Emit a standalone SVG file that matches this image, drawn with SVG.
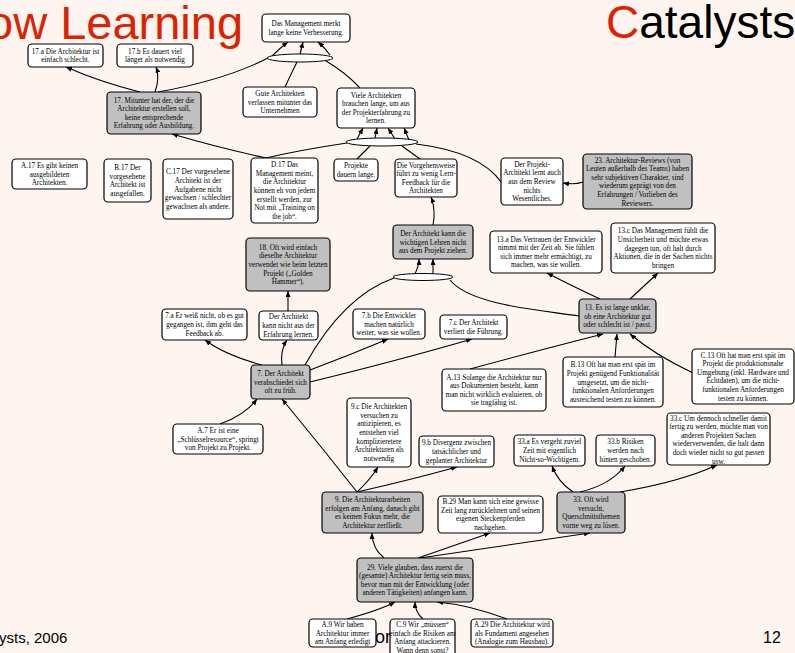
<svg xmlns="http://www.w3.org/2000/svg" width="795" height="653" viewBox="0 0 795 653">
<style>
.bg{fill:#fff5f0}
.n{fill:#fff;stroke:#000;stroke-width:1.2}
.g{fill:#c0c0c0;stroke:#000;stroke-width:1.2}
.e{fill:#fff;stroke:#000;stroke-width:1}
text.t{font-family:"Liberation Serif","Times New Roman",serif;font-size:7.2px;text-anchor:middle;fill:#000}
.c path{fill:none;stroke:#000;stroke-width:1.1}
.a{marker-end:url(#ah)}
.big{font-family:"Liberation Sans",Arial,sans-serif}
</style>
<defs>
<marker id="ah" markerUnits="userSpaceOnUse" markerWidth="6" markerHeight="5" refX="6" refY="2.5" orient="auto"><path d="M0,0 L6,2.5 L0,5 z" fill="#000"/></marker>
</defs>
<rect class="bg" x="0" y="0" width="795" height="653"/>
<text class="big" x="-13" y="39" font-size="47" fill="#dd2200">ow Learning</text>
<text class="big" x="606" y="38" font-size="46" fill="#000"><tspan fill="#dd2200">C</tspan>atalysts</text>
<text class="big" x="-1" y="643" font-size="15" fill="#000">ysts, 2006</text>
<text class="big" x="763" y="643" font-size="16" fill="#000">12</text>
<text class="big" x="375" y="643" font-size="18" fill="#000">or</text>

<g class="c">
<path class="a" d="M140,92 Q100,82 66,67"/>
<path class="a" d="M155,92 Q160,78 156,67"/>
<path d="M158,92 Q225,80 268,58"/>
<path d="M285,87 Q292,72 297,62"/>
<path d="M360,88 Q345,72 326,61"/>
<path class="a" d="M272,56 Q280,48 288,42"/>
<path class="a" d="M300,54 L303,42"/>
<path class="a" d="M330,55 Q325,48 318,42"/>
<path class="a" d="M357,139 L363,128"/>
<path class="a" d="M375,138 L377,128"/>
<path class="a" d="M395,139 L388,128"/>
<path class="a" d="M409,140 L404,128"/>
<path class="a" d="M266,158 Q220,148 172,134"/>
<path d="M266,158 Q300,150 347,143"/>
<path d="M357,159 L370,146"/>
<path d="M420,159 L402,146"/>
<path d="M501,182 Q480,152 416,144"/>
<path class="a" d="M583,182 Q575,185 563,183"/>
<path class="a" d="M433,225 Q436,210 431,197"/>
<path class="a" d="M415,274 Q419,265 419,259"/>
<path class="a" d="M433,274 L433,259"/>
<path d="M305,365 C330,320 360,290 394,278"/>
<path d="M579,316 C540,310 470,305 450,280"/>
<path class="a" d="M282,365 Q280,350 287,340"/>
<path class="a" d="M288,311 L288,291"/>
<path class="a" d="M262,365 Q225,355 205,340"/>
<path class="a" d="M310,370 Q350,355 388,339"/>
<path class="a" d="M310,382 Q400,360 472,339"/>
<path class="a" d="M220,424 Q245,415 257,399"/>
<path class="a" d="M357,492 Q320,445 282,399"/>
<path class="a" d="M470,369 Q540,350 603,334"/>
<path class="a" d="M615,357 L617,334"/>
<path class="a" d="M693,373 Q655,355 630,334"/>
<path class="a" d="M600,299 Q570,285 547,273"/>
<path class="a" d="M630,299 Q645,285 658,273"/>
<path class="a" d="M357,492 Q370,480 378,467"/>
<path class="a" d="M357,492 Q410,480 457,467"/>
<path class="a" d="M384,558 Q372,548 372,533"/>
<path class="a" d="M418,558 Q455,545 490,533"/>
<path class="a" d="M420,558 Q510,545 590,533"/>
<path class="a" d="M573,492 Q558,482 552,466"/>
<path class="a" d="M580,492 Q610,485 625,466"/>
<path class="a" d="M620,492 Q680,482 717,465"/>
<path class="a" d="M347,619 Q380,610 395,602"/>
<path class="a" d="M423,619 Q415,612 415,602"/>
<path class="a" d="M507,619 Q470,605 437,602"/>
</g>

<g id="e1"><ellipse class="e" cx="300" cy="58" rx="33" ry="4"/></g>
<g id="e2"><ellipse class="e" cx="382" cy="142" rx="36" ry="4"/></g>
<g id="e3"><ellipse class="e" cx="423" cy="277" rx="30" ry="3.5"/></g>

<g id="mgmt"><rect class="n" x="262" y="14" width="88" height="28" rx="4"/><text class="t" x="306" y="26.2">Das Management merkt</text><text class="t" x="306" y="34.8">lange keine Verbesserung.</text></g>
<g id="n17a"><rect class="n" x="28" y="44" width="75" height="23" rx="4"/><text class="t" x="65.5" y="53.7">17.a Die Architektur ist</text><text class="t" x="65.5" y="62.3">einfach schlecht.</text></g>
<g id="n17b"><rect class="n" x="117" y="44" width="76" height="23" rx="4"/><text class="t" x="155" y="53.7">17.b Es dauert viel</text><text class="t" x="155" y="62.3">länger als notwendig</text></g>
<g id="gute"><rect class="n" x="243" y="87" width="74" height="30" rx="4"/><text class="t" x="280" y="95.9">Gute Architekten</text><text class="t" x="280" y="104.5">verlassen mitunter das</text><text class="t" x="280" y="113.1">Unternehmen</text></g>
<g id="n17"><rect class="g" x="107" y="92" width="94" height="42" rx="4"/><text class="t" x="154" y="102.6">17. Mitunter hat der, der die</text><text class="t" x="154" y="111.2">Architektur erstellen soll,</text><text class="t" x="154" y="119.8">keine entsprechende</text><text class="t" x="154" y="128.4">Erfahrung oder Ausbildung.</text></g>
<g id="viele"><rect class="n" x="337" y="88" width="78" height="40" rx="4"/><text class="t" x="376" y="97.6">Viele Architekten</text><text class="t" x="376" y="106.2">brauchen lange, um aus</text><text class="t" x="376" y="114.8">der Projekterfahrung zu</text><text class="t" x="376" y="123.4">lernen.</text></g>
<g id="a17"><rect class="n" x="12" y="159" width="75" height="30" rx="4"/><text class="t" x="49.5" y="167.9">A.17 Es gibt keinen</text><text class="t" x="49.5" y="176.5">ausgebildeten</text><text class="t" x="49.5" y="185.1">Architekten.</text></g>
<g id="b17"><rect class="n" x="104" y="159" width="47" height="43" rx="4"/><text class="t" x="127.5" y="170.1">B.17 Der</text><text class="t" x="127.5" y="178.7">vorgesehene</text><text class="t" x="127.5" y="187.3">Architekt ist</text><text class="t" x="127.5" y="195.9">ausgefallen.</text></g>
<g id="c17"><rect class="n" x="163" y="159" width="70" height="60" rx="4"/><text class="t" x="198" y="174.3">C.17 Der vorgesehene</text><text class="t" x="198" y="182.9">Architekt ist der</text><text class="t" x="198" y="191.5">Aufgabene nicht</text><text class="t" x="198" y="200.1">gewachsen / schlechter</text><text class="t" x="198" y="208.7">gewachsen als andere.</text></g>
<g id="d17"><rect class="n" x="251" y="158" width="67" height="65" rx="4"/><text class="t" x="284.5" y="167.2">D.17 Das</text><text class="t" x="284.5" y="175.8">Management meint,</text><text class="t" x="284.5" y="184.4">die Architektur</text><text class="t" x="284.5" y="193">können eh von jedem</text><text class="t" x="284.5" y="201.6">erstellt werden, zur</text><text class="t" x="284.5" y="210.2">Not mit „Training on</text><text class="t" x="284.5" y="218.8">the job“.</text></g>
<g id="projekte"><rect class="n" x="334" y="159" width="44" height="22" rx="4"/><text class="t" x="356" y="168.2">Projekte</text><text class="t" x="356" y="176.8">dauern lange.</text></g>
<g id="vorgehen"><rect class="n" x="395" y="159" width="62" height="38" rx="4"/><text class="t" x="426" y="167.6">Die Vorgehensweise</text><text class="t" x="426" y="176.2">führt zu wenig Lern-</text><text class="t" x="426" y="184.8">Feedback für die</text><text class="t" x="426" y="193.4">Architekten</text></g>
<g id="projarch"><rect class="n" x="501" y="158" width="62" height="47" rx="4"/><text class="t" x="532" y="166.8">Der Projekt-</text><text class="t" x="532" y="175.4">Architekt lernt auch</text><text class="t" x="532" y="184">aus dem Review</text><text class="t" x="532" y="192.6">nichts</text><text class="t" x="532" y="201.2">Wesentliches.</text></g>
<g id="n23"><rect class="g" x="583" y="154" width="109" height="55" rx="4"/><text class="t" x="637.5" y="162.5">23. Architektur-Reviews (von</text><text class="t" x="637.5" y="171.1">Leuten außerhalb des Teams) haben</text><text class="t" x="637.5" y="179.7">sehr subjektiven Charakter, sind</text><text class="t" x="637.5" y="188.3">wiederum geprägt von den</text><text class="t" x="637.5" y="196.9">Erfahrungen / Vorlieben des</text><text class="t" x="637.5" y="205.5">Reviewers.</text></g>
<g id="lehren"><rect class="g" x="393" y="225" width="80" height="34" rx="4"/><text class="t" x="433" y="235.9">Der Architekt kann die</text><text class="t" x="433" y="244.5">wichtigen Lehren nicht</text><text class="t" x="433" y="253.1">aus dem Projekt ziehen.</text></g>
<g id="n18"><rect class="g" x="246" y="238" width="84" height="53" rx="4"/><text class="t" x="288" y="249.8">18. Oft wird einfach</text><text class="t" x="288" y="258.4">dieselbe Architektur</text><text class="t" x="288" y="267">verwendet wie beim letzten</text><text class="t" x="288" y="275.6">Projekt („Golden</text><text class="t" x="288" y="284.2">Hammer“).</text></g>
<g id="n13a"><rect class="n" x="490" y="231" width="112" height="42" rx="4"/><text class="t" x="546" y="241.6">13.a Das Vertrauen der Entwickler</text><text class="t" x="546" y="250.2">nimmt mit der Zeit ab. Sie fühlen</text><text class="t" x="546" y="258.8">sich immer mehr ermächtigt, zu</text><text class="t" x="546" y="267.4">machen, was sie wollen.</text></g>
<g id="n13c"><rect class="n" x="611" y="223" width="104" height="50" rx="4"/><text class="t" x="663" y="233.3">13.c Das Management fühlt die</text><text class="t" x="663" y="241.9">Unsicherheit und möchte etwas</text><text class="t" x="663" y="250.5">dagegen tun, oft halt durch</text><text class="t" x="663" y="259.1">Aktionen, die in der Sachen nichts</text><text class="t" x="663" y="267.7">bringen</text></g>
<g id="n13"><rect class="g" x="579" y="299" width="77" height="34" rx="4"/><text class="t" x="617.5" y="309.9">13. Es ist lange unklar,</text><text class="t" x="617.5" y="318.5">ob eine Architektur gut</text><text class="t" x="617.5" y="327.1">oder schlecht ist / passt.</text></g>
<g id="nichtlernen"><rect class="n" x="259" y="311" width="59" height="29" rx="4"/><text class="t" x="288.5" y="319.4">Der Architekt</text><text class="t" x="288.5" y="328">kann nicht aus der</text><text class="t" x="288.5" y="336.6">Erfahrung lernen.</text></g>
<g id="n7a"><rect class="n" x="162" y="309" width="85" height="31" rx="4"/><text class="t" x="204.5" y="318.4">7.a Er weiß nicht, ob es gut</text><text class="t" x="204.5" y="327">gegangen ist, ihm geht das</text><text class="t" x="204.5" y="335.6">Feedback ab.</text></g>
<g id="n7b"><rect class="n" x="353" y="309" width="72" height="30" rx="4"/><text class="t" x="389" y="317.9">7.b Die Entwickler</text><text class="t" x="389" y="326.5">machen natürlich</text><text class="t" x="389" y="335.1">weiter, was sie wollen.</text></g>
<g id="n7c"><rect class="n" x="440" y="315" width="67" height="24" rx="4"/><text class="t" x="473.5" y="325.2">7.c Der Architekt</text><text class="t" x="473.5" y="333.8">verliert die Führung.</text></g>
<g id="n7"><rect class="g" x="251" y="365" width="59" height="34" rx="4"/><text class="t" x="280.5" y="375.9">7. Der Architekt</text><text class="t" x="280.5" y="384.5">verabschiedet sich</text><text class="t" x="280.5" y="393.1">oft zu früh.</text></g>
<g id="a13"><rect class="n" x="442" y="369" width="104" height="42" rx="4"/><text class="t" x="494" y="379.6">A.13 Solange die Architektur nur</text><text class="t" x="494" y="388.2">aus Dokumenten besteht, kann</text><text class="t" x="494" y="396.8">man nicht wirklich evaluieren, ob</text><text class="t" x="494" y="405.4">sie tragfähig ist.</text></g>
<g id="b13"><rect class="n" x="563" y="357" width="100" height="50" rx="4"/><text class="t" x="613" y="367.3">B.13 Oft hat man erst spät im</text><text class="t" x="613" y="375.9">Projekt genügend Funktionalität</text><text class="t" x="613" y="384.5">umgesetzt, um die nicht-</text><text class="t" x="613" y="393.1">funktionalen Anforderungen</text><text class="t" x="613" y="401.7">ausreichend testen zu können.</text></g>
<g id="c13"><rect class="n" x="692" y="349" width="102" height="55" rx="4"/><text class="t" x="743" y="357.5">C.13 Oft hat man erst spät im</text><text class="t" x="743" y="366.1">Projekt die produktionsnahe</text><text class="t" x="743" y="374.7">Umgebung (inkl. Hardware und</text><text class="t" x="743" y="383.3">Echtdaten), um die nicht-</text><text class="t" x="743" y="391.9">funktionalen Anforderungen</text><text class="t" x="743" y="400.5">testen zu können.</text></g>
<g id="a7"><rect class="n" x="173" y="424" width="90" height="30" rx="4"/><text class="t" x="218" y="432.9">A.7 Er ist eine</text><text class="t" x="218" y="441.5">„Schlüsselresource“, springt</text><text class="t" x="218" y="450.1">von Projekt zu Projekt.</text></g>
<g id="n9c"><rect class="n" x="347" y="398" width="64" height="69" rx="4"/><text class="t" x="379" y="409.2">9.c Die Architekten</text><text class="t" x="379" y="417.8">versuchen zu</text><text class="t" x="379" y="426.4">antizipieren, es</text><text class="t" x="379" y="435">entstehen viel</text><text class="t" x="379" y="443.6">komplizieretere</text><text class="t" x="379" y="452.2">Architekturen als</text><text class="t" x="379" y="460.8">notwendig</text></g>
<g id="n9b"><rect class="n" x="419" y="436" width="75" height="31" rx="4"/><text class="t" x="456.5" y="445.4">9.b Divergenz zwischen</text><text class="t" x="456.5" y="454">tatsächlicher und</text><text class="t" x="456.5" y="462.6">geplanter Architektur</text></g>
<g id="n33a"><rect class="n" x="514" y="435" width="71" height="31" rx="4"/><text class="t" x="549.5" y="444.4">33.a Es vergeht zuviel</text><text class="t" x="549.5" y="453">Zeit mit eigentlich</text><text class="t" x="549.5" y="461.6">Nicht-so-Wichtigem.</text></g>
<g id="n33b"><rect class="n" x="596" y="435" width="59" height="31" rx="4"/><text class="t" x="625.5" y="444.4">33.b Risiken</text><text class="t" x="625.5" y="453">werden nach</text><text class="t" x="625.5" y="461.6">hinten geschoben.</text></g>
<g id="n33c"><rect class="n" x="667" y="413" width="103" height="52" rx="4"/><text class="t" x="718.5" y="420.5">33.c Um dennoch schneller damit</text><text class="t" x="718.5" y="429.1">fertig zu werden, möchte man von</text><text class="t" x="718.5" y="437.7">anderen Projekten Sachen</text><text class="t" x="718.5" y="446.3">wiederverwenden, die halt dann</text><text class="t" x="718.5" y="454.9">doch wieder nicht so gut passen</text><text class="t" x="718.5" y="463.5">usw.</text></g>
<g id="n9"><rect class="g" x="322" y="492" width="101" height="41" rx="4"/><text class="t" x="372.5" y="502.1">9. Die Architekturarbeiten</text><text class="t" x="372.5" y="510.7">erfolgen am Anfang, danach gibt</text><text class="t" x="372.5" y="519.3">es keinen Fokus mehr, die</text><text class="t" x="372.5" y="527.9">Architektur zerfließt.</text></g>
<g id="b29"><rect class="n" x="438" y="496" width="105" height="37" rx="4"/><text class="t" x="490.5" y="504.1">B.29 Man kann sich eine gewisse</text><text class="t" x="490.5" y="512.7">Zeit lang zurücklehnen und seinen</text><text class="t" x="490.5" y="521.3">eigenen Steckenpferden</text><text class="t" x="490.5" y="529.9">nachgehen.</text></g>
<g id="n33"><rect class="g" x="557" y="492" width="68" height="41" rx="4"/><text class="t" x="591" y="502.1">33. Oft wird</text><text class="t" x="591" y="510.7">versucht,</text><text class="t" x="591" y="519.3">Querschnittsthemen</text><text class="t" x="591" y="527.9">vorne weg zu lösen.</text></g>
<g id="n29"><rect class="g" x="357" y="558" width="116" height="44" rx="4"/><text class="t" x="415" y="569.6">29. Viele glauben, dass zuerst die</text><text class="t" x="415" y="578.2">(gesamte) Architektur fertig sein muss,</text><text class="t" x="415" y="586.8">bevor man mit der Entwicklung (oder</text><text class="t" x="415" y="595.4">anderen Tätigkeiten) anfangen kann.</text></g>
<g id="a9"><rect class="n" x="309" y="619" width="67" height="28" rx="4"/><text class="t" x="342.5" y="626.9">A.9 Wir haben</text><text class="t" x="342.5" y="635.5">Architektur immer</text><text class="t" x="342.5" y="644.1">am Anfang erledigt</text></g>
<g id="c9"><rect class="n" x="390" y="619" width="65" height="42" rx="4"/><text class="t" x="422.5" y="626.9">C.9 Wir „müssen“</text><text class="t" x="422.5" y="635.5">einfach die Risiken am</text><text class="t" x="422.5" y="644.1">Anfang attackieren.</text><text class="t" x="422.5" y="652.7">Wann denn sonst?</text></g>
<g id="a29"><rect class="n" x="471" y="619" width="82" height="28" rx="4"/><text class="t" x="512" y="626.9">A.29 Die Architektur wird</text><text class="t" x="512" y="635.5">als Fundament angesehen</text><text class="t" x="512" y="644.1">(Analogie zum Hausbau).</text></g>
</svg>
